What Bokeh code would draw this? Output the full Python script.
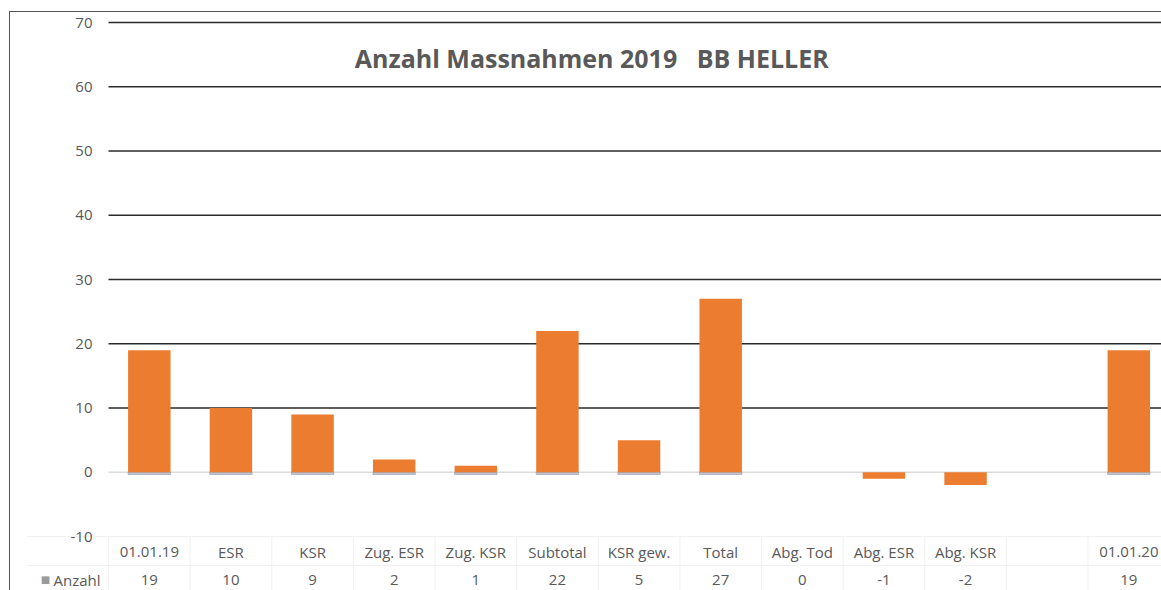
from bokeh.plotting import figure
from bokeh.models import Range1d
from bokeh.core.properties import value
from bokeh.embed import file_html
from bokeh.resources import INLINE

# ---- data ----
categories = ["01.01.19", "ESR", "KSR", "Zug. ESR", "Zug. KSR", "Subtotal",
              "KSR gew.", "Total", "Abg. Tod", "Abg. ESR", "Abg. KSR", "", "01.01.20"]
values = [19, 10, 9, 2, 1, 22, 5, 27, 0, -1, -2, None, 19]
series_name = "Anzahl"
title_text = "Anzahl Massnahmen 2019\u00a0\u00a0\u00a0BB HELLER"
y_ticks = [-10, 0, 10, 20, 30, 40, 50, 60, 70]

FONT = value("Open Sans")
TXT = "#595959"
BAR = "#EC7C30"

n = len(categories)
idx = list(range(n))
bx = [i for i, v in zip(idx, values) if v is not None]
bv = [v for v in values if v is not None]
pos_x = [i for i, v in zip(bx, bv) if v > 0]
y_min, y_max = y_ticks[0], y_ticks[-1]
left_edge = -0.5
right_edge = n - 0.5

# plot area: x 108..(1161+) px, y 22..536 px; whole canvas is the frame
PX_X = 81.625
PX_Y = 6.425
p = figure(width=1161, height=590, output_backend="svg", toolbar_location=None,
           x_range=Range1d(left_edge - 108 / PX_X, left_edge + (1161 - 108) / PX_X),
           y_range=Range1d(y_min - 54 / PX_Y, y_max + 22 / PX_Y),
           min_border=0, x_axis_type=None, y_axis_type=None)
p.outline_line_color = None
p.grid.visible = False
p.border_fill_alpha = 0
p.background_fill_alpha = 0
p.styles = {"box-shadow": "inset 9px 11px 0 0 #ffffff, inset 10px 12px 0 0 #555555"}

# faint data-table cell lines
sep_x = [left_edge + k for k in range(n + 1)]
p.segment(x0=sep_x, x1=sep_x, y0=y_min, y1=y_min - 60, line_color="#f0f0f0", line_width=1)
p.segment(x0=[left_edge - 1.0, left_edge - 1.0], x1=[right_edge, right_edge],
          y0=[y_min, y_min - 4.5], y1=[y_min, y_min - 4.5], line_color="#f0f0f0", line_width=1)

# gridlines
grid_ticks = [t for t in y_ticks if t > 0]
p.segment(x0=left_edge, x1=right_edge, y0=grid_ticks, y1=grid_ticks,
          line_color="#2b2b2b", line_width=1.4)
p.segment(x0=left_edge, x1=right_edge, y0=0, y1=0, line_color="#dcdcdc", line_width=1.5)

# y tick labels
p.text(x=left_edge, y=y_ticks, text=[str(t) for t in y_ticks], x_offset=-16,
       text_align="right", text_baseline="middle", text_font=FONT,
       text_font_size="15px", text_color=TXT)

# bars (with a faint shadow under the positive ones)
p.vbar(x=pos_x, top=0, bottom=-0.35, width=0.52, color="#8f93a8", alpha=0.55)
p.vbar(x=bx, top=bv, bottom=0, width=0.52, fill_color=BAR, line_color=None)

# data table rows
p.text(x=idx, y=y_min, text=categories, y_offset=15, text_align="center",
       text_baseline="middle", text_font=FONT, text_font_size="15px", text_color=TXT)
p.text(x=idx, y=y_min, text=["" if v is None else str(v) for v in values], y_offset=43,
       text_align="center", text_baseline="middle", text_font=FONT,
       text_font_size="15px", text_color=TXT)
p.text(x=[left_edge], y=[y_min], text=[series_name], x_offset=-8, y_offset=43,
       text_align="right", text_baseline="middle", text_font=FONT,
       text_font_size="15px", text_color=TXT)
p.text(x=[left_edge], y=[y_min], text=["■"], x_offset=-63, y_offset=43,
       text_align="center", text_baseline="middle", text_font=value("DejaVu Sans"),
       text_font_size="10px", text_color="#9a9a9a")

# title inside plot area
p.text(x=[5.42], y=[64.5], text=[title_text], text_align="center",
       text_baseline="alphabetic", text_font=FONT, text_font_style="bold",
       text_font_size="25px", text_color=TXT)

open("out.html", "w").write(file_html(p, INLINE))
